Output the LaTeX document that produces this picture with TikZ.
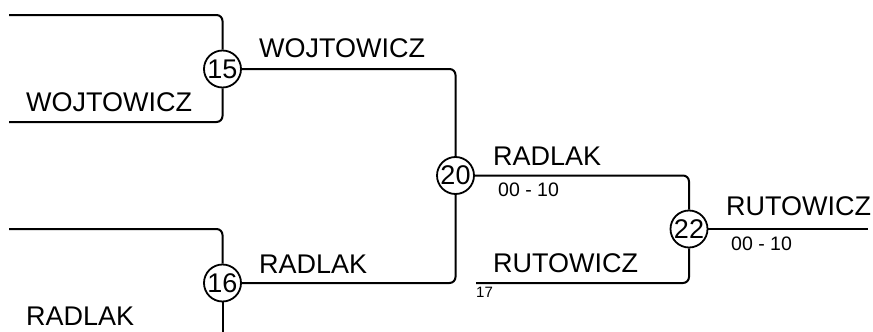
\documentclass[tikz,border=0pt]{standalone}
\usepackage{fontspec}
\setmainfont{Liberation Sans}
\usetikzlibrary{positioning}
\tikzset{
  match/.style={draw, circle, fill=white, line width=1.8pt, minimum size=37pt, inner sep=0pt, font=\fontsize{27}{27}\selectfont},
  player/.style={anchor=base west, inner sep=0pt, font=\fontsize{27}{27}\selectfont},
  score/.style={anchor=base west, inner sep=0pt, font=\fontsize{19.5}{19.5}\selectfont},
  seed/.style={anchor=base west, inner sep=0pt, font=\fontsize{15}{15}\selectfont},
  bracket/.style={line width=2pt, rounded corners=6pt}
}

\begin{document}
\begin{tikzpicture}[x=1pt, y=-1pt]
\useasboundingbox (0,0) rectangle (873,332);
% matches
\node[match] (m15) at (222.5,69) {15};
\node[match] (m16) at (222.5,283) {16};
\node[match] (m20) at (455.5,175.5) {20};
\node[match] (m22) at (689,229) {22};
% free ends
\coordinate (in15a) at (9,15);
\coordinate (in15b) at (9,122);
\coordinate (in16a) at (9,229);
\coordinate (in16b) at (222.5,332);
\coordinate (in17) at (476,283);
\coordinate (out22) at (868,229);

% bracket lines
\draw[bracket] (in15a) -| (m15.north);
\draw[bracket] (in15b) -| (m15.south);
\draw[bracket] (in16a) -| (m16.north);
\draw[bracket] (m16.south) -- (in16b);
\draw[bracket] (m15.east) -| (m20.north);
\draw[bracket] (m16.east) -| (m20.south);
\draw[bracket] (m20.east) -| (m22.north);
\draw[bracket] (in17) -| (m22.south);
\draw[bracket] (m22.east) -- (out22);

% names
\node[player] (p15b) at (26,111) {WOJTOWICZ};
\node[player] (p16b) at (26,325) {RADLAK};
\node[player] (w15) at (259,57) {WOJTOWICZ};
\node[player] (w16) at (259,273) {RADLAK};
\node[player] (w20) at (493,165) {RADLAK};
\node[player] (p17) at (493,272) {RUTOWICZ};
\node[player] (w22) at (726,215) {RUTOWICZ};

% scores
\node[score] (s20) at (498,196) {00 - 10};
\node[score] (s22) at (731,250) {00 - 10};
\node[seed] (n17) at (476,297) {17};
\end{tikzpicture}
\end{document}
